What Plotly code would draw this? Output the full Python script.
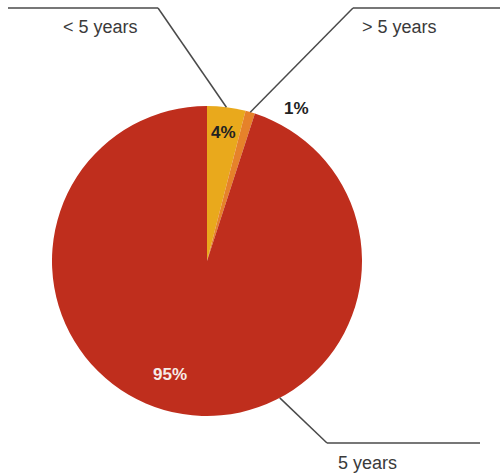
import math
import plotly.graph_objects as go

# Term of the holding, share of total (%)
categories = ["< 5 years", "> 5 years", "5 years"]
shares = [4, 1, 95]
colors = ["#E9A91C", "#E6822A", "#BF2E1D"]

W, H = 502, 476
CX, CY, R = 207, 261, 155  # pie centre and radius in pixels


def px(x):
    return x / W


def py(y):
    return 1 - y / H


fig = go.Figure(
    go.Pie(
        labels=categories,
        values=shares,
        sort=False,
        direction="clockwise",
        rotation=0,
        textinfo="none",
        hoverinfo="label+percent",
        marker=dict(colors=colors, line=dict(width=0)),
        domain=dict(x=[px(CX - R), px(CX + R)], y=[py(CY + R), py(CY - R)]),
        showlegend=False,
    )
)


def edge_point(angle_deg, radius=R):
    a = math.radians(angle_deg)
    return CX + radius * math.sin(a), CY - radius * math.cos(a)


# slice boundaries (degrees clockwise from 12 o'clock)
total = sum(shares)
starts, ends = [], []
acc = 0
for v in shares:
    starts.append(acc / total * 360)
    acc += v
    ends.append(acc / total * 360)
mids = [(s + e) / 2 for s, e in zip(starts, ends)]

# where each leader touches the rim, and the elbow / tail of the leader
anchor_angles = [mids[0], mids[1], 152]
elbows = [(158, 8), (353, 8), (327, 443)]
tails = [(8, 8), (500, 8), (480, 443)]
label_pos = [(100, 27), (399, 27), (367, 463)]

line_style = dict(color="#4a4a4a", width=1.5)
shapes = []
annotations = []
for i, name in enumerate(categories):
    ex, ey = edge_point(anchor_angles[i])
    bx, by = elbows[i]
    tx, ty = tails[i]
    shapes.append(dict(type="line", xref="paper", yref="paper",
                       x0=px(ex), y0=py(ey), x1=px(bx), y1=py(by), line=line_style))
    shapes.append(dict(type="line", xref="paper", yref="paper",
                       x0=px(bx), y0=py(by), x1=px(tx), y1=py(ty), line=line_style))
    lx, ly = label_pos[i]
    annotations.append(dict(x=px(lx), y=py(ly), xref="paper", yref="paper",
                            xanchor="center", yanchor="middle",
                            text=name, showarrow=False,
                            font=dict(family="Liberation Sans, Arial", size=18, color="#3a3a3a")))

# percentage labels
pct_pos = [(223, 132), (296, 109), (170, 374)]
pct_colors = ["#222222", "#222222", "#f6ece8"]
for v, (lx, ly), c in zip(shares, pct_pos, pct_colors):
    annotations.append(dict(x=px(lx), y=py(ly), xref="paper", yref="paper",
                            xanchor="center", yanchor="middle",
                            text=f"<b>{v}%</b>", showarrow=False,
                            font=dict(family="Liberation Sans, Arial", size=17, color=c)))

fig.update_layout(
    width=W, height=H,
    margin=dict(l=0, r=0, t=0, b=0),
    paper_bgcolor="white",
    plot_bgcolor="white",
    shapes=shapes,
    annotations=annotations,
)

fig.write_html("out.html")
